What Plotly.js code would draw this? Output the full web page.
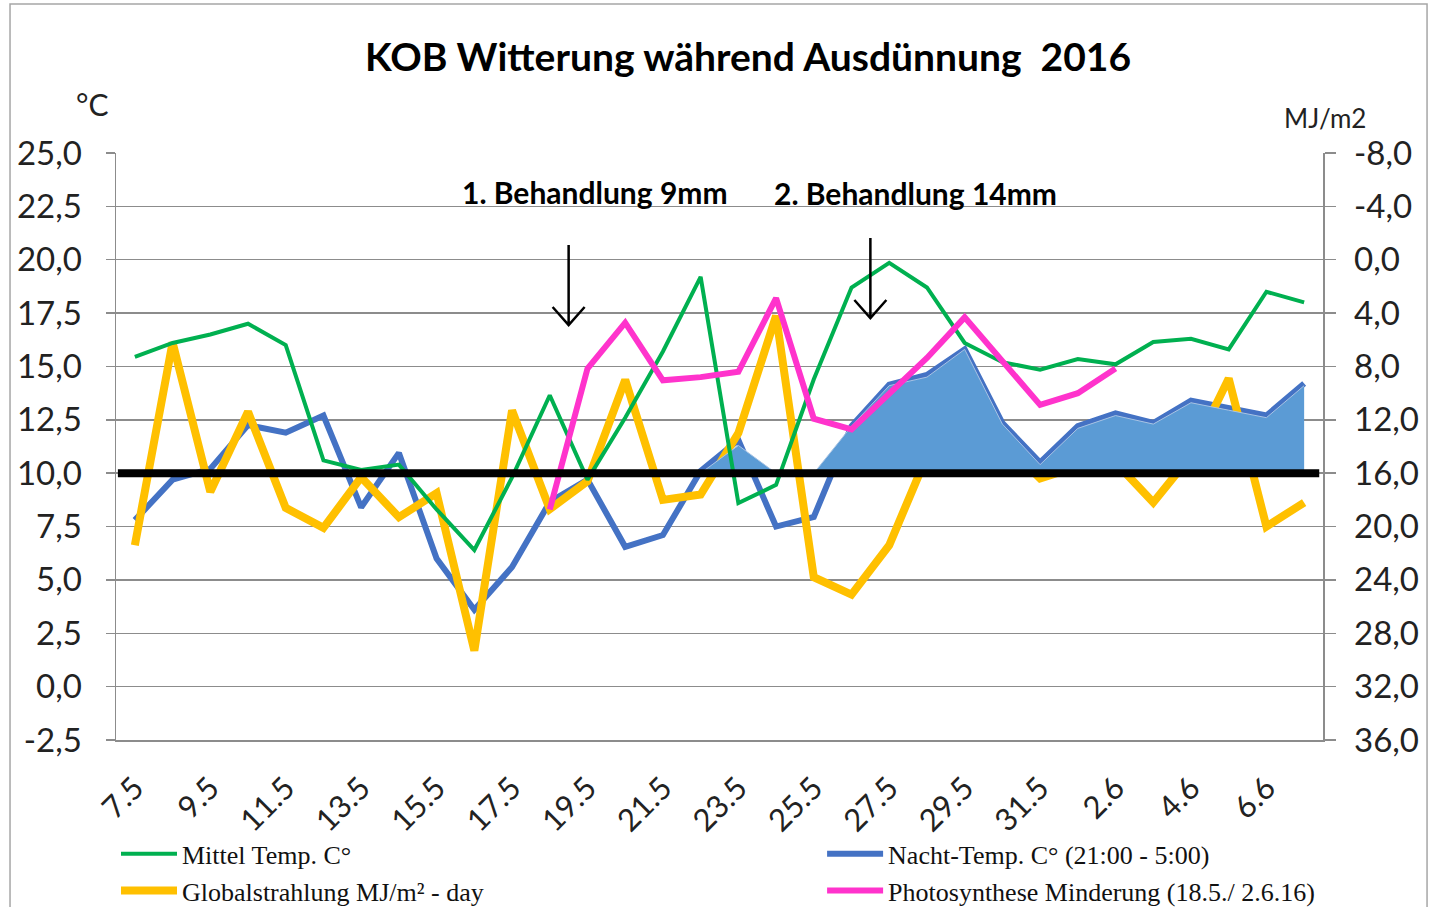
<!DOCTYPE html>
<html>
<head>
<meta charset="utf-8">
<script src="https://cdn.plot.ly/plotly-3.0.1.min.js"></script>
<style>
html,body{margin:0;padding:0;background:#fff;}
#chart{width:1429px;height:907px;}
</style>
</head>
<body>
<div id="chart"></div>
<script>
// ---- data ----
const daten = ['7.5','8.5','9.5','10.5','11.5','12.5','13.5','14.5','15.5','16.5','17.5','18.5','19.5','20.5','21.5','22.5','23.5','24.5','25.5','26.5','27.5','28.5','29.5','30.5','31.5','1.6','2.6','3.6','4.6','5.6','6.6','7.6'];
const tickLabels = ['7.5','9.5','11.5','13.5','15.5','17.5','19.5','21.5','23.5','25.5','27.5','29.5','31.5','2.6','4.6','6.6'];
const mittelTemp = [15.45,16.1,16.5,17.0,16.0,10.6,10.15,10.4,8.3,6.4,9.8,13.65,9.7,12.6,15.7,19.2,8.6,9.45,14.4,18.7,19.85,18.7,16.1,15.2,14.85,15.35,15.1,16.15,16.3,15.8,18.5,18.0];
const nachtTemp = [7.8,9.7,10.2,12.25,11.9,12.7,8.4,10.95,6.0,3.6,5.6,8.65,9.7,6.55,7.1,10.1,11.55,7.5,7.95,12.2,14.15,14.6,15.8,12.35,10.5,12.2,12.8,12.35,13.4,13.05,12.7,14.2];
const globalstrahlung = [21.4,6.2,17.4,11.4,18.6,20.1,16.3,19.3,17.5,29.3,11.3,18.7,16.6,9.0,18.0,17.6,13.0,4.2,23.8,25.1,21.4,14.7,12.0,13.6,16.4,15.5,15.2,18.2,14.7,8.9,20.0,18.2];
const photosynthese = [null,null,null,null,null,null,null,null,null,null,null,8.3,14.9,17.05,14.35,14.5,14.75,18.2,12.55,12.05,13.7,15.4,17.3,15.25,13.2,13.75,14.9,null,null,null,null,null];
const flaeche = [null,null,null,null,null,null,null,null,null,null,null,null,null,null,null,10,11.3,10,10,12.2,14.1,14.5,15.8,12.3,10.4,12.1,12.7,12.3,13.3,12.95,12.6,14.1];
const schwelle = 10;
const tempTicks = [-2.5,0,2.5,5,7.5,10,12.5,15,17.5,20,22.5,25];
const mjTicks = [-8,-4,0,4,8,12,16,20,24,28,32,36];
const behandlungen = [{pos:11.5, tip:16.94, text:'1. Behandlung 9mm'},{pos:19.5, tip:17.27, text:'2. Behandlung 14mm'}];

// ---- helpers ----
const idx = daten.map((d,i)=>i);
const tickIdx = tickLabels.map(t=>daten.indexOf(t));
const boundaries = [];
for (let b=-0.5; b<=daten.length-0.5; b+=2) boundaries.push(b);
const basis = daten.map(()=>schwelle);
const fmt = v => v.toFixed(1).replace('.', ',');

const grey = '#8c8c8c';
const fontMain = 'Lato, "Open Sans", sans-serif';
const fontLegend = '"Liberation Serif", "DejaVu Serif", serif';

const traces = [
  {x: idx, y: nachtTemp, name: 'Nacht-Temp. C° (21:00 - 5:00)', type:'scatter', mode:'lines',
   line:{color:'#4472C4', width:6}, xaxis:'x', yaxis:'y', legend:'legend2', legendrank:1},
  {x: idx, y: globalstrahlung, name: 'Globalstrahlung MJ/m² - day', type:'scatter', mode:'lines',
   line:{color:'#FFC000', width:8}, xaxis:'x', yaxis:'y2', legend:'legend', legendrank:2},
  {x: idx, y: basis, type:'scatter', mode:'lines', line:{width:0, color:'rgba(0,0,0,0)'},
   showlegend:false, hoverinfo:'skip', xaxis:'x', yaxis:'y3'},
  {x: idx, y: flaeche, type:'scatter', mode:'lines', fill:'tonexty', fillcolor:'#5B9BD5',
   line:{width:1, color:'#A9C4E4'}, showlegend:false, xaxis:'x', yaxis:'y3'},
  {x: idx, y: mittelTemp, name: 'Mittel Temp. C°', type:'scatter', mode:'lines',
   line:{color:'#00B050', width:4}, xaxis:'x', yaxis:'y3', legend:'legend', legendrank:1},
  {x: idx, y: photosynthese, name: 'Photosynthese Minderung (18.5./ 2.6.16)', type:'scatter', mode:'lines',
   line:{color:'#FF33CC', width:6}, xaxis:'x', yaxis:'y3', legend:'legend2', legendrank:2}
];

const shapes = [
  {type:'line', xref:'x', yref:'y', x0:-0.45, x1:daten.length-0.6, y0:schwelle, y1:schwelle,
   line:{color:'#000', width:8}, layer:'above'},
  {type:'rect', xref:'paper', yref:'paper', x0:-0.0878, x1:1.0862, y0:-0.4, y1:1.2538,
   line:{color:'#a6a6a6', width:1.5}, layer:'below'}
];
behandlungen.forEach(b=>{
  shapes.push({type:'path', xref:'x', yref:'y', xsizemode:'pixel', ysizemode:'pixel',
    xanchor:b.pos, yanchor:b.tip, path:'M0,80 L0,0 M-16,18 L0,0 L16,18',
    line:{color:'#000', width:2.5}, layer:'above'});
});

const annotations = [
  {text:'°C', xref:'paper', yref:'paper', x:-0.0199, y:1.0835, xanchor:'center', yanchor:'middle', showarrow:false,
   font:{family:fontMain, size:30, color:'#222'}},
  {text:'MJ/m2', xref:'paper', yref:'paper', x:1.0017, y:1.0596, xanchor:'center', yanchor:'middle', showarrow:false,
   font:{family:fontMain, size:26, color:'#222'}},
  {text:behandlungen[0].text, xref:'paper', yref:'paper', x:0.3969, y:0.9336, xanchor:'center', yanchor:'middle', showarrow:false,
   font:{family:fontMain, size:30, color:'#000', weight:'bold'}},
  {text:behandlungen[1].text, xref:'paper', yref:'paper', x:0.662, y:0.932, xanchor:'center', yanchor:'middle', showarrow:false,
   font:{family:fontMain, size:30, color:'#000', weight:'bold'}}
];

const layout = {
  width:1429, height:907,
  margin:{l:116, r:106, t:153, b:167, autoexpand:false},
  paper_bgcolor:'#fff', plot_bgcolor:'#fff',
  showlegend:true,
  title:{text:'KOB Witterung während Ausdünnung  2016', font:{family:fontMain, size:39, color:'#000', weight:'bold'},
         xref:'paper', x:0.5236, xanchor:'center', yref:'container', y:0.937, yanchor:'middle'},
  xaxis:{range:[-0.5, daten.length-0.5], tickvals:tickIdx, ticktext:tickLabels, tickangle:-45,
         ticks:'', showgrid:false, zeroline:false, showline:true, linecolor:grey, linewidth:1.5,
         tickfont:{family:fontMain, size:31, color:'#222'}, ticklabelstandoff:16, fixedrange:true},
  xaxis2:{overlaying:'x', anchor:'y', range:[-0.5, daten.length-0.5], tickvals:boundaries,
          ticks:'outside', ticklen:9, tickcolor:grey, tickwidth:1.5, showticklabels:false,
          showgrid:false, zeroline:false, showline:false},
  yaxis:{range:[-2.5,25], tickvals:tempTicks, ticktext:tempTicks.map(fmt), ticks:'outside', ticklen:9,
         tickcolor:grey, tickwidth:1.5, showline:true, linecolor:grey, linewidth:1.5,
         gridcolor:grey, gridwidth:1.5, zeroline:false,
         tickfont:{family:fontMain, size:33, color:'#222'}, ticklabelstandoff:17},
  yaxis2:{overlaying:'y', side:'right', anchor:'x', range:[36,-8], tickvals:mjTicks, ticktext:mjTicks.map(fmt),
          ticks:'outside', ticklen:11, tickcolor:grey, tickwidth:1.5, showline:true, linecolor:grey,
          linewidth:1.5, showgrid:false, zeroline:false,
          tickfont:{family:fontMain, size:33, color:'#222'}, ticklabelstandoff:12},
  yaxis3:{overlaying:'y', anchor:'x', range:[-2.5,25], visible:false, showgrid:false, zeroline:false},
  legend:{x:0.0, xanchor:'left', y:-0.154, yanchor:'top', orientation:'v', bgcolor:'rgba(0,0,0,0)',
          font:{family:fontLegend, size:26, color:'#111'}, itemwidth:56, traceorder:'normal'},
  legend2:{x:0.585, xanchor:'left', y:-0.154, yanchor:'top', orientation:'v', bgcolor:'rgba(0,0,0,0)',
          font:{family:fontLegend, size:26, color:'#111'}, itemwidth:56, traceorder:'normal'},
  shapes:shapes,
  annotations:annotations
};

Plotly.newPlot('chart', traces, layout, {staticPlot:true, displayModeBar:false});
</script>
</body>
</html>
